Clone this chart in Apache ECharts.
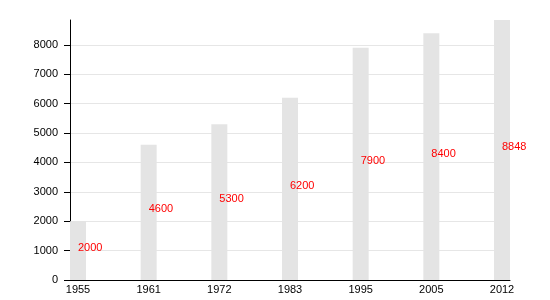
<!DOCTYPE html>
<html><head><meta charset="utf-8">
<script src="https://cdn.jsdelivr.net/npm/echarts@6/dist/echarts.min.js"></script>
<style>html,body{margin:0;padding:0;background:#fff}#c{width:550px;height:300px}</style>
</head><body><div id="c"></div>
<script>
var categories = ['1955', '1961', '1972', '1983', '1995', '2005', '2012'];
var heights = [2000, 4600, 5300, 6200, 7900, 8400, 8848];
var yMax = 8848;

var chart = echarts.init(document.getElementById('c'), null, {renderer: 'canvas'});
var font = 'Liberation Sans, Arial, sans-serif';
chart.setOption({
  animation: false,
  backgroundColor: '#fff',
  grid: [
    {left: 70, right: 40, top: 20, bottom: 20},
    {left: 78, right: 48, top: 20, bottom: 20}
  ],
  xAxis: [
    {gridIndex: 0, type: 'value', min: 0, max: 1,
      axisLine: {show: true, onZero: false, lineStyle: {color: '#000', width: 1}},
      axisTick: {show: false}, axisLabel: {show: false}, splitLine: {show: false}},
    {gridIndex: 1, type: 'category', data: categories, boundaryGap: false,
      axisLine: {show: false}, axisTick: {show: false},
      axisLabel: {color: '#000', fontSize: 11, fontFamily: font, margin: 4}}
  ],
  yAxis: [
    {gridIndex: 0, type: 'value', min: 0, max: yMax, interval: 1000,
      axisLine: {show: true, lineStyle: {color: '#000', width: 1}},
      axisTick: {show: true, length: 6, lineStyle: {color: '#000'}},
      axisLabel: {color: '#000', fontSize: 11, fontFamily: font, margin: 12, showMaxLabel: false,
        formatter: function (v) { return String(v); }},
      splitLine: {show: true, showMaxLine: false, lineStyle: {color: '#e6e6e6', width: 1}}},
    {gridIndex: 1, type: 'value', min: 0, max: yMax, show: false, splitLine: {show: false}}
  ],
  series: [{
    type: 'bar', xAxisIndex: 1, yAxisIndex: 1, data: heights, barWidth: 16,
    itemStyle: {color: '#e4e4e4'},
    label: {show: true, position: ['50%', '50%'], align: 'left', verticalAlign: 'middle',
      offset: [0, -3], color: '#ff0000', fontSize: 11, fontFamily: font}
  }]
});
</script></body></html>
